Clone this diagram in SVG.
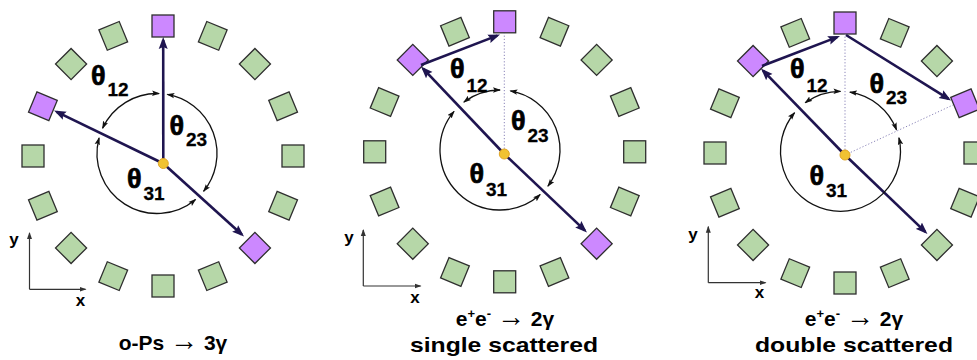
<svg xmlns="http://www.w3.org/2000/svg" xmlns:xlink="http://www.w3.org/1999/xlink" width="977" height="360" viewBox="0 0 977 360">
<style>
.g{fill:#b6d7a8;stroke:#2e2e2e;stroke-width:1.3}
.p{fill:#cc88ff;stroke:#2e2e2e;stroke-width:1.3}
.nv{stroke:#1f1550;stroke-width:2.6;fill:none;marker-end:url(#ah)}
.arc{stroke:#111;stroke-width:1.3;fill:none;marker-start:url(#sa);marker-end:url(#sa)}
.dot{stroke:#8a84b8;stroke-width:1;stroke-dasharray:1.2,2;fill:none}
.ax{stroke:#333;stroke-width:1.2;fill:none;marker-end:url(#axh)}
.src{fill:#f1c232;stroke:#e0a526;stroke-width:1}
.th{font-family:"Liberation Sans",Arial,sans-serif;font-weight:bold;font-size:27px;fill:#000;stroke:#000;stroke-width:0.7}
.sub{font-size:19px;stroke-width:0.3}
.al{font-family:"Liberation Sans",Arial,sans-serif;font-weight:bold;font-size:17px;fill:#000;text-anchor:middle}
.tt{font-family:"Liberation Sans",Arial,sans-serif;font-weight:bold;font-size:21px;fill:#000}
.arw{font-size:28px;font-weight:normal}
</style>
<defs>
<rect id="sq" x="-11" y="-11" width="22" height="22"/>
<marker id="ah" viewBox="0 0 12 10" refX="9" refY="5" markerWidth="12" markerHeight="10" markerUnits="userSpaceOnUse" orient="auto"><path d="M0,0.5 L12,5 L0,9.5 L2,5 z" fill="#1f1550"/></marker>
<marker id="sa" viewBox="0 0 8 6" refX="7" refY="3" markerWidth="8" markerHeight="6" markerUnits="userSpaceOnUse" orient="auto-start-reverse"><path d="M0,0.3 L8,3 L0,5.7 L1.5,3 z" fill="#111"/></marker>
<marker id="axh" viewBox="0 0 7 6" refX="6" refY="3" markerWidth="7" markerHeight="6" markerUnits="userSpaceOnUse" orient="auto"><path d="M0,0.5 L7,3 L0,5.5 z" fill="#333"/></marker>
</defs>

<!-- Panel 1 detectors -->
<g id="panel1-detectors">
<g id="p1-d0"><use href="#sq" class="p" transform="translate(163,156) rotate(0) translate(0,-130)"/></g>
<g id="p1-d1"><use href="#sq" class="g" transform="translate(163,156) rotate(22.5) translate(0,-130)"/></g>
<g id="p1-d2"><use href="#sq" class="g" transform="translate(163,156) rotate(45) translate(0,-130)"/></g>
<g id="p1-d3"><use href="#sq" class="g" transform="translate(163,156) rotate(67.5) translate(0,-130)"/></g>
<g id="p1-d4"><use href="#sq" class="g" transform="translate(163,156) rotate(90) translate(0,-130)"/></g>
<g id="p1-d5"><use href="#sq" class="g" transform="translate(163,156) rotate(112.5) translate(0,-130)"/></g>
<g id="p1-d6"><use href="#sq" class="p" transform="translate(163,156) rotate(135) translate(0,-130)"/></g>
<g id="p1-d7"><use href="#sq" class="g" transform="translate(163,156) rotate(157.5) translate(0,-130)"/></g>
<g id="p1-d8"><use href="#sq" class="g" transform="translate(163,156) rotate(180) translate(0,-130)"/></g>
<g id="p1-d9"><use href="#sq" class="g" transform="translate(163,156) rotate(202.5) translate(0,-130)"/></g>
<g id="p1-d10"><use href="#sq" class="g" transform="translate(163,156) rotate(225) translate(0,-130)"/></g>
<g id="p1-d11"><use href="#sq" class="g" transform="translate(163,156) rotate(247.5) translate(0,-130)"/></g>
<g id="p1-d12"><use href="#sq" class="g" transform="translate(163,156) rotate(270) translate(0,-130)"/></g>
<g id="p1-d13"><use href="#sq" class="p" transform="translate(163,156) rotate(292.5) translate(0,-130)"/></g>
<g id="p1-d14"><use href="#sq" class="g" transform="translate(163,156) rotate(315) translate(0,-130)"/></g>
<g id="p1-d15"><use href="#sq" class="g" transform="translate(163,156) rotate(337.5) translate(0,-130)"/></g>
</g>

<!-- Panel 2 detectors -->
<g id="panel2-detectors">
<g id="p2-d0"><use href="#sq" class="p" transform="translate(504.7,151.8) rotate(0) translate(0,-130)"/></g>
<g id="p2-d1"><use href="#sq" class="g" transform="translate(504.7,151.8) rotate(22.5) translate(0,-130)"/></g>
<g id="p2-d2"><use href="#sq" class="g" transform="translate(504.7,151.8) rotate(45) translate(0,-130)"/></g>
<g id="p2-d3"><use href="#sq" class="g" transform="translate(504.7,151.8) rotate(67.5) translate(0,-130)"/></g>
<g id="p2-d4"><use href="#sq" class="g" transform="translate(504.7,151.8) rotate(90) translate(0,-130)"/></g>
<g id="p2-d5"><use href="#sq" class="g" transform="translate(504.7,151.8) rotate(112.5) translate(0,-130)"/></g>
<g id="p2-d6"><use href="#sq" class="p" transform="translate(504.7,151.8) rotate(135) translate(0,-130)"/></g>
<g id="p2-d7"><use href="#sq" class="g" transform="translate(504.7,151.8) rotate(157.5) translate(0,-130)"/></g>
<g id="p2-d8"><use href="#sq" class="g" transform="translate(504.7,151.8) rotate(180) translate(0,-130)"/></g>
<g id="p2-d9"><use href="#sq" class="g" transform="translate(504.7,151.8) rotate(202.5) translate(0,-130)"/></g>
<g id="p2-d10"><use href="#sq" class="g" transform="translate(504.7,151.8) rotate(225) translate(0,-130)"/></g>
<g id="p2-d11"><use href="#sq" class="g" transform="translate(504.7,151.8) rotate(247.5) translate(0,-130)"/></g>
<g id="p2-d12"><use href="#sq" class="g" transform="translate(504.7,151.8) rotate(270) translate(0,-130)"/></g>
<g id="p2-d13"><use href="#sq" class="g" transform="translate(504.7,151.8) rotate(292.5) translate(0,-130)"/></g>
<g id="p2-d14"><use href="#sq" class="p" transform="translate(504.7,151.8) rotate(315) translate(0,-130)"/></g>
<g id="p2-d15"><use href="#sq" class="g" transform="translate(504.7,151.8) rotate(337.5) translate(0,-130)"/></g>
</g>

<!-- Panel 3 detectors -->
<g id="panel3-detectors">
<g id="p3-d0"><use href="#sq" class="p" transform="translate(845,153) rotate(0) translate(0,-130)"/></g>
<g id="p3-d1"><use href="#sq" class="g" transform="translate(845,153) rotate(22.5) translate(0,-130)"/></g>
<g id="p3-d2"><use href="#sq" class="g" transform="translate(845,153) rotate(45) translate(0,-130)"/></g>
<g id="p3-d3"><use href="#sq" class="p" transform="translate(845,153) rotate(67.5) translate(0,-130)"/></g>
<g id="p3-d4"><use href="#sq" class="g" transform="translate(845,153) rotate(90) translate(0,-130)"/></g>
<g id="p3-d5"><use href="#sq" class="g" transform="translate(845,153) rotate(112.5) translate(0,-130)"/></g>
<g id="p3-d6"><use href="#sq" class="g" transform="translate(845,153) rotate(135) translate(0,-130)"/></g>
<g id="p3-d7"><use href="#sq" class="g" transform="translate(845,153) rotate(157.5) translate(0,-130)"/></g>
<g id="p3-d8"><use href="#sq" class="g" transform="translate(845,153) rotate(180) translate(0,-130)"/></g>
<g id="p3-d9"><use href="#sq" class="g" transform="translate(845,153) rotate(202.5) translate(0,-130)"/></g>
<g id="p3-d10"><use href="#sq" class="g" transform="translate(845,153) rotate(225) translate(0,-130)"/></g>
<g id="p3-d11"><use href="#sq" class="g" transform="translate(845,153) rotate(247.5) translate(0,-130)"/></g>
<g id="p3-d12"><use href="#sq" class="g" transform="translate(845,153) rotate(270) translate(0,-130)"/></g>
<g id="p3-d13"><use href="#sq" class="g" transform="translate(845,153) rotate(292.5) translate(0,-130)"/></g>
<g id="p3-d14"><use href="#sq" class="p" transform="translate(845,153) rotate(315) translate(0,-130)"/></g>
<g id="p3-d15"><use href="#sq" class="g" transform="translate(845,153) rotate(337.5) translate(0,-130)"/></g>
</g>

<!-- connectors -->
<g id="connectors">
<path class="dot" d="M504.3,152 L504.3,33"/>
<path class="dot" d="M845,153 L845,34"/>
<path class="dot" d="M845,155 L953,105"/>

<path class="nv" d="M163.3,163.5 L163.2,40"/>
<path class="nv" d="M163.3,163.5 L56.7,111.8"/>
<path class="nv" d="M163.3,163.5 L241.8,234.5"/>

<path class="nv" d="M504.3,154 L423.1,68.7"/>
<path class="nv" d="M504.3,154 L584.8,230.4"/>
<path class="nv" d="M421,65 L497.2,35.6"/>

<path class="nv" d="M845,155 L763.1,70.7"/>
<path class="nv" d="M845,155 L925.3,231.9"/>
<path class="nv" d="M762,66 L837.2,37.1"/>
<path class="nv" d="M846,35 L948.5,98.9"/>

<path class="arc" d="M102.62,128.14 A60,60 0 0 1 159.09,93.54"/>
<path class="arc" d="M167.42,94.41 A60,60 0 0 1 203.63,191.26"/>
<path class="arc" d="M195.57,199.46 A60,60 0 0 1 99.05,137.97"/>

<path class="arc" d="M463.89,102.08 A60,60 0 0 1 500,90"/>
<path class="arc" d="M510.42,90.91 A60,60 0 0 1 547.92,186.11"/>
<path class="arc" d="M540.15,194.59 A60,60 0 0 1 454.04,111.43"/>

<path class="arc" d="M805.23,102.76 A60,60 0 0 1 840.5,91.3"/>
<path class="arc" d="M849.89,92.04 A60,60 0 0 1 896.52,129.8"/>
<path class="arc" d="M898.96,137.8 A60,60 0 1 1 794.54,112.73"/>

<path class="ax" d="M29.5,289.3 L29.5,233"/>
<path class="ax" d="M29.5,289.3 L85.5,289.3"/>
<path class="ax" d="M363.3,286 L363.3,230"/>
<path class="ax" d="M363.3,286 L420.5,286"/>
<path class="ax" d="M708.3,282.7 L708.3,226.7"/>
<path class="ax" d="M708.3,282.7 L765.5,282.7"/>
</g>

<!-- sources -->
<g id="src1"><circle class="src" cx="163.3" cy="163.5" r="5"/></g>
<g id="src2"><circle class="src" cx="504.3" cy="154" r="5"/></g>
<g id="src3"><circle class="src" cx="845" cy="155" r="5"/></g>

<!-- angle labels -->
<g id="labels">
<text class="th" x="91" y="84.5">θ<tspan class="sub" x="107.5" y="95.5">12</tspan></text>
<text class="th" x="169.5" y="134.5">θ<tspan class="sub" x="186" y="146">23</tspan></text>
<text class="th" x="127" y="188">θ<tspan class="sub" x="143.5" y="200">31</tspan></text>

<text class="th" x="450" y="77.5">θ<tspan class="sub" x="466.5" y="91.5">12</tspan></text>
<text class="th" x="511" y="130">θ<tspan class="sub" x="527.5" y="141.5">23</tspan></text>
<text class="th" x="469.5" y="183">θ<tspan class="sub" x="486" y="196">31</tspan></text>

<text class="th" x="790" y="78">θ<tspan class="sub" x="806.5" y="91.5">12</tspan></text>
<text class="th" x="869.5" y="92.5">θ<tspan class="sub" x="886" y="104">23</tspan></text>
<text class="th" x="809.5" y="185">θ<tspan class="sub" x="826" y="197">31</tspan></text>

<text class="al" x="14" y="245">y</text>
<text class="al" x="80.5" y="305.5">x</text>
<text class="al" x="349" y="242.5">y</text>
<text class="al" x="415" y="302.5">x</text>
<text class="al" x="693" y="240">y</text>
<text class="al" x="759.5" y="297.5">x</text>

<text class="tt" x="173" y="349.5" text-anchor="middle">o-Ps <tspan class="arw">→</tspan> 3γ</text>
<text class="tt" x="505" y="325.5" text-anchor="middle">e<tspan font-size="13" dy="-8">+</tspan><tspan dy="8">e</tspan><tspan font-size="13" dy="-8">-</tspan><tspan dy="8"> </tspan><tspan class="arw">→</tspan> 2γ</text>
<text class="tt" x="410" y="351.5" textLength="188" lengthAdjust="spacingAndGlyphs">single scattered</text>
<text class="tt" x="854" y="325.5" text-anchor="middle">e<tspan font-size="13" dy="-8">+</tspan><tspan dy="8">e</tspan><tspan font-size="13" dy="-8">-</tspan><tspan dy="8"> </tspan><tspan class="arw">→</tspan> 2γ</text>
<text class="tt" x="755" y="351.5" textLength="198" lengthAdjust="spacingAndGlyphs">double scattered</text>
</g>
</svg>
